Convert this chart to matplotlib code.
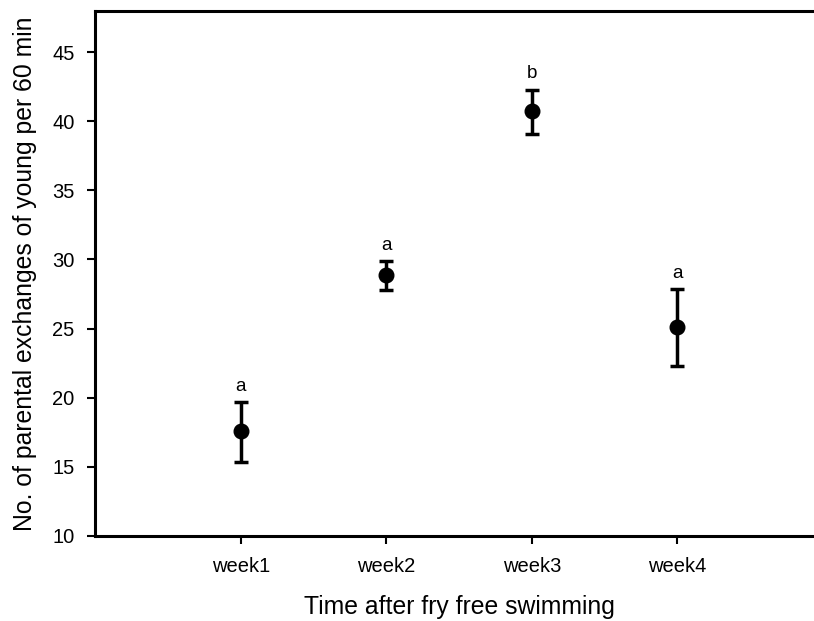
import numpy as np
import matplotlib
matplotlib.use("Agg")
import matplotlib.pyplot as plt

plt.rcParams['font.family'] = ['Liberation Sans', 'DejaVu Sans']

# data
weeks = ["week1", "week2", "week3", "week4"]
means = [17.55, 28.85, 40.72, 25.10]
upper = [19.65, 29.87, 42.28, 27.85]
lower = [15.30, 27.82, 39.12, 22.31]
letters = ["a", "a", "b", "a"]

x = np.arange(1, len(weeks) + 1)
err = [np.array(means) - np.array(lower), np.array(upper) - np.array(means)]

fig = plt.figure(figsize=(8.14, 6.21), dpi=100)
# axes box runs off the right edge, like the cropped original
ax = fig.add_axes([0.117, 0.1374, 0.8937, 0.845])

ax.errorbar(x, means, yerr=err, fmt="o", color="black", markersize=10.5,
            elinewidth=2.5, capsize=5, capthick=2.5)

for xi, top, lab in zip(x, upper, letters):
    ax.text(xi, top + 0.55, lab, ha="center", va="bottom", fontsize=13.5)

ax.set_xlim(0, 5)
ax.set_ylim(10, 48)
ax.set_xticks(x)
ax.set_xticklabels(weeks)
ax.set_yticks(np.arange(10, 50, 5))

for side in ["left", "bottom", "top"]:
    ax.spines[side].set_linewidth(2.2)
ax.spines["right"].set_visible(False)
ax.tick_params(direction="out", length=6, width=1.5, labelsize=14.5, pad=9)

ax.set_xlabel("Time after fry free swimming", fontsize=17.8, labelpad=14)
ax.set_ylabel("No. of parental exchanges of young per 60 min", fontsize=17.8, labelpad=11)

fig.savefig("out.png", dpi=100)
